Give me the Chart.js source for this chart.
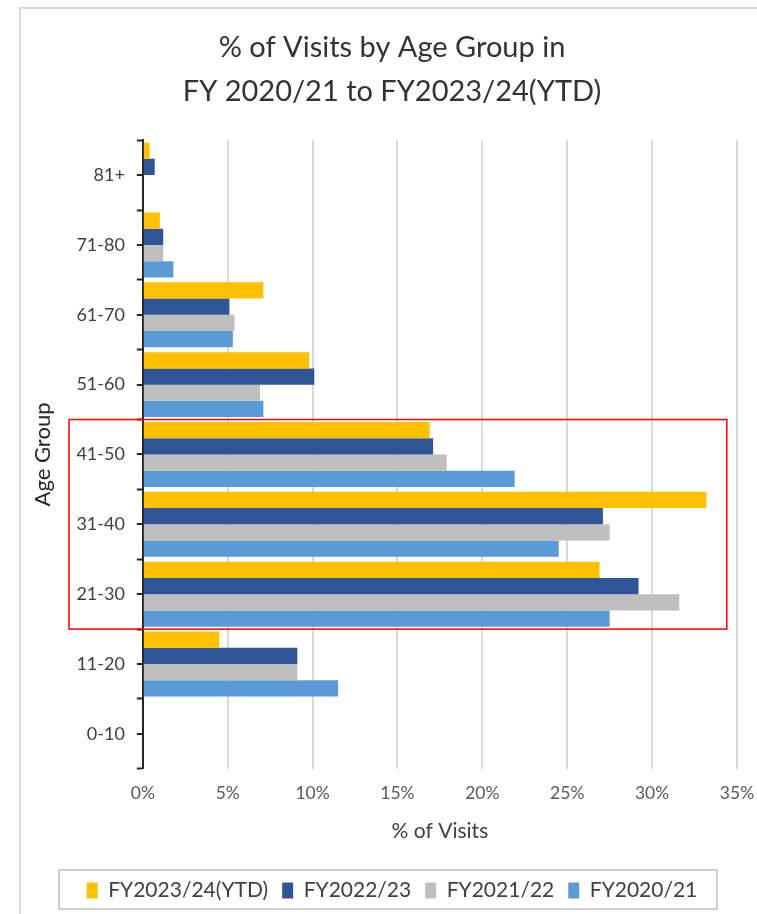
<!DOCTYPE html>
<html>
<head>
<meta charset="utf-8">
<title>% of Visits by Age Group</title>
<script src="https://cdn.jsdelivr.net/npm/chart.js@4.4.1/dist/chart.umd.min.js"></script>
<style>
  html, body { margin: 0; padding: 0; background: #ffffff; }
  #wrap { position: relative; width: 757px; height: 914px; }
</style>
</head>
<body>
<div id="wrap"><canvas id="chart" width="757" height="914"></canvas></div>
<script>
// Age groups, listed top to bottom as drawn
const ageGroups = ['81+', '71-80', '61-70', '51-60', '41-50', '31-40', '21-30', '11-20', '0-10'];

// Share of visits (%) per age group, per financial year
const fy2324 = [0.4, 1.0, 7.1, 9.8, 16.9, 33.2, 26.9, 4.5, 0];
const fy2223 = [0.7, 1.2, 5.1, 10.1, 17.1, 27.1, 29.2, 9.1, 0];
const fy2122 = [0, 1.2, 5.4, 6.9, 17.9, 27.5, 31.6, 9.1, 0];
const fy2021 = [0, 1.8, 5.3, 7.1, 21.9, 24.5, 27.5, 11.5, 0];

const seriesNames = ['FY2023/24(YTD)', 'FY2022/23', 'FY2021/22', 'FY2020/21'];
const seriesColors = ['#FFC000', '#2F5597', '#BFBFBF', '#5B9BD5'];

const xTicks = [0, 5, 10, 15, 20, 25, 30, 35];

const FONT = 'Lato, "Open Sans", "Liberation Sans", sans-serif';

// Light frame around the whole chart
const framePlugin = {
  id: 'frame',
  beforeDraw(chart) {
    const ctx = chart.ctx;
    ctx.save();
    ctx.strokeStyle = '#D9D9D9';
    ctx.lineWidth = 2;
    ctx.beginPath();
    ctx.moveTo(20, chart.height + 2);
    ctx.lineTo(20, 8);
    ctx.lineTo(chart.width + 2, 8);
    ctx.stroke();
    ctx.restore();
  }
};

// Tick marks at each category centre (boundary marks come from the grid)
const centreTicks = {
  id: 'centreTicks',
  afterDraw(chart) {
    const y = chart.scales.y;
    const ctx = chart.ctx;
    ctx.save();
    ctx.strokeStyle = '#262626';
    ctx.lineWidth = 2;
    for (let i = 0; i < ageGroups.length; i++) {
      const py = Math.round(y.getPixelForTick(i));
      ctx.beginPath();
      ctx.moveTo(y.right - 6, py);
      ctx.lineTo(y.right, py);
      ctx.stroke();
    }
    ctx.restore();
  }
};

// Border around the legend and the highlight box over the 21-50 groups
const boxesPlugin = {
  id: 'boxes',
  afterDraw(chart) {
    const ctx = chart.ctx;
    const lg = chart.legend;
    ctx.save();
    ctx.strokeStyle = '#BFBFBF';
    ctx.lineWidth = 1.5;
    ctx.strokeRect(59, lg.top + 4, 658, lg.height - 6);

    const y = chart.scales.y;
    const x = chart.scales.x;
    const half = (y.getPixelForTick(1) - y.getPixelForTick(0)) / 2;
    const top = y.getPixelForValue(ageGroups.indexOf('41-50')) - half;
    const bottom = y.getPixelForValue(ageGroups.indexOf('21-30')) + half;
    ctx.strokeStyle = '#FF0000';
    ctx.lineWidth = 1.5;
    ctx.strokeRect(69, top, x.getPixelForValue(34.4) - 69, bottom - top);
    ctx.restore();
  }
};

const data = {
  labels: ageGroups,
  datasets: [fy2324, fy2223, fy2122, fy2021].map((vals, i) => ({
    label: seriesNames[i],
    data: vals,
    backgroundColor: seriesColors[i],
    borderWidth: 0,
    categoryPercentage: 0.93,
    barPercentage: 1.0
  }))
};

new Chart(document.getElementById('chart'), {
  type: 'bar',
  data,
  plugins: [framePlugin, centreTicks, boxesPlugin],
  options: {
    indexAxis: 'y',
    responsive: false,
    animation: false,
    events: [],
    layout: { padding: { left: 30, right: 3, top: 0, bottom: 3 } },
    plugins: {
      tooltip: { enabled: false },
      title: {
        display: true,
        text: ['% of Visits by Age Group in', 'FY 2020/21 to FY2023/24(YTD)'],
        color: '#333333',
        font: { family: FONT, size: 29, weight: 'normal', lineHeight: 1.52 },
        padding: { top: 26, bottom: 26 }
      },
      legend: {
        position: 'bottom',
        labels: {
          color: '#404040',
          font: { family: FONT, size: 21 },
          boxWidth: 11,
          boxHeight: 16,
          padding: 14
        }
      }
    },
    scales: {
      x: {
        min: 0,
        max: 35,
        afterBuildTicks(scale) { scale.ticks = xTicks.map(v => ({ value: v })); },
        afterFit(scale) { scale.paddingRight = 20; },
        ticks: {
          callback: v => v + '%',
          color: '#595959',
          font: { family: FONT, size: 17.5 },
          padding: 14
        },
        grid: { color: '#D9D9D9', lineWidth: 2, drawTicks: false },
        border: { display: false },
        title: {
          display: true,
          text: '% of Visits',
          color: '#404040',
          font: { family: FONT, size: 21 },
          padding: { top: 1, bottom: 22 }
        }
      },
      y: {
        grid: {
          offset: true,
          drawOnChartArea: false,
          drawTicks: true,
          tickLength: 6,
          tickColor: '#262626',
          tickWidth: 2
        },
        border: { display: true, color: '#262626', width: 2 },
        ticks: {
          color: '#404040',
          font: { family: FONT, size: 18 },
          padding: 12
        },
        title: {
          display: true,
          text: 'Age Group',
          color: '#262626',
          font: { family: FONT, size: 22 },
          padding: { top: 0, bottom: 8 }
        }
      }
    }
  }
});
</script>
</body>
</html>
